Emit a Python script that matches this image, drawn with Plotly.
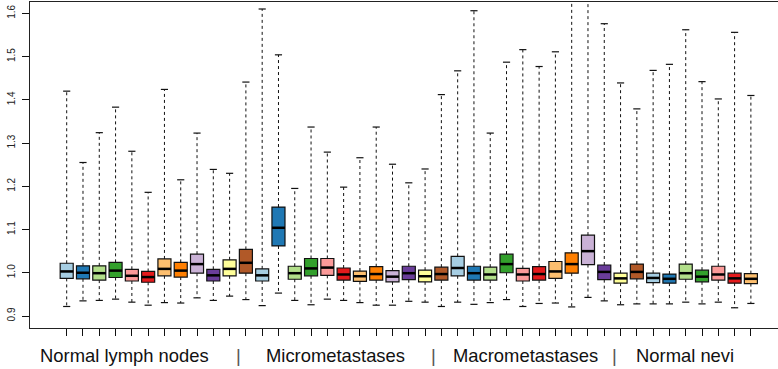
import plotly.graph_objects as go

# ---- data ----
groups = ["Normal lymph nodes", "Micrometastases", "Macrometastases", "Normal nevi"]
group_sizes = [12, 12, 12, 7]
palette = ["#A6CEE3", "#1F78B4", "#B2DF8A", "#33A02C", "#FB9A99", "#E31A1C",
           "#FDBF6F", "#FF7F00", "#CAB2D6", "#6A3D9A", "#FFFF99", "#B15928"]

lower = [0.922, 0.935, 0.936, 0.939, 0.932, 0.925, 0.931, 0.930, 0.942, 0.936, 0.946, 0.938,
         0.924, 0.953, 0.936, 0.926, 0.939, 0.936, 0.931, 0.925, 0.925, 0.934, 0.932, 0.922,
         0.932, 0.927, 0.931, 0.938, 0.922, 0.929, 0.930, 0.921, 0.943, 0.935, 0.926, 0.928,
         0.928, 0.928, 0.932, 0.928, 0.932, 0.919, 0.929]
q1 = [0.987, 0.986, 0.983, 0.989, 0.981, 0.978, 0.993, 0.990, 0.999, 0.981, 0.993, 0.999,
      0.981, 1.062, 0.985, 0.993, 0.994, 0.983, 0.980, 0.983, 0.979, 0.984, 0.979, 0.983,
      0.993, 0.983, 0.983, 1.000, 0.981, 0.983, 0.987, 0.999, 1.019, 0.984, 0.976, 0.986,
      0.977, 0.976, 0.985, 0.979, 0.983, 0.976, 0.975]
median = [1.003, 1.000, 0.999, 1.005, 0.993, 0.990, 1.009, 1.005, 1.020, 0.994, 1.009, 1.023,
          0.994, 1.104, 0.999, 1.010, 1.012, 0.996, 0.992, 0.997, 0.991, 0.999, 0.992, 0.997,
          1.011, 0.999, 0.996, 1.020, 0.996, 0.997, 1.003, 1.020, 1.050, 1.002, 0.987, 1.002,
          0.988, 0.986, 0.999, 0.991, 0.996, 0.987, 0.986]
q3 = [1.022, 1.016, 1.016, 1.024, 1.008, 1.003, 1.032, 1.024, 1.043, 1.008, 1.030, 1.054,
      1.009, 1.152, 1.015, 1.033, 1.033, 1.011, 1.004, 1.014, 1.005, 1.015, 1.006, 1.013,
      1.038, 1.015, 1.013, 1.043, 1.010, 1.014, 1.026, 1.046, 1.087, 1.018, 0.999, 1.020,
      0.999, 0.997, 1.020, 1.006, 1.015, 0.999, 0.998]
upper = [1.420, 1.255, 1.324, 1.383, 1.281, 1.186, 1.424, 1.215, 1.323, 1.239, 1.230, 1.441,
         1.610, 1.504, 1.195, 1.337, 1.279, 1.198, 1.266, 1.337, 1.251, 1.208, 1.240, 1.412,
         1.467, 1.606, 1.323, 1.487, 1.516, 1.477, 1.511, 1.700, 1.800, 1.576, 1.439, 1.379,
         1.468, 1.482, 1.562, 1.442, 1.402, 1.556, 1.410]
yticks = [0.9, 1.0, 1.1, 1.2, 1.3, 1.4, 1.5, 1.6]

n = len(median)
positions = list(range(1, n + 1))
colors = [palette[i % 12] for i in range(n)]

fig = go.Figure()

BW = 0.8
for i in range(n):
    fig.add_trace(go.Box(
        x=[positions[i]], q1=[q1[i]], median=[median[i]], q3=[q3[i]],
        lowerfence=[q1[i]], upperfence=[q3[i]],
        width=BW, whiskerwidth=0, fillcolor=colors[i],
        line=dict(color="#111111", width=1.2), boxpoints=False,
        hoverinfo="skip", showlegend=False))

# whiskers (dashed)
wx, wy = [], []
for i in range(n):
    wx += [positions[i], positions[i], None, positions[i], positions[i], None]
    wy += [q3[i], upper[i], None, q1[i], lower[i], None]
fig.add_trace(go.Scatter(x=wx, y=wy, mode="lines",
                         line=dict(color="#111111", width=1, dash="3px,3px"),
                         hoverinfo="skip", showlegend=False))
# staples
cx, cy = [], []
cw = 0.22
for i in range(n):
    cx += [positions[i] - cw, positions[i] + cw, None, positions[i] - cw, positions[i] + cw, None]
    cy += [upper[i], upper[i], None, lower[i], lower[i], None]
fig.add_trace(go.Scatter(x=cx, y=cy, mode="lines",
                         line=dict(color="#111111", width=1.2),
                         hoverinfo="skip", showlegend=False))
# thick medians
mx, my = [], []
for i in range(n):
    mx += [positions[i] - BW / 2, positions[i] + BW / 2, None]
    my += [median[i], median[i], None]
fig.add_trace(go.Scatter(x=mx, y=my, mode="lines",
                         line=dict(color="#000000", width=2.5),
                         hoverinfo="skip", showlegend=False))

W, H = 778, 369
ML, MR, MT, MB = 30, 0, 2, 41
plot_w = W - ML - MR
plot_h = H - MT - MB

# pixel geometry: box 1 at 66.7 px, step 16.29 px
step = 16.29
x0 = 1 - (ML - 0 - 66.7 + ML) / step if False else 1 - (66.7 - ML) / step
x1 = x0 + plot_w / step

def px_to_paper_x(px):
    return (px - ML) / plot_w

def py_to_paper_y(py):
    return 1 - (py - MT) / plot_h

label_y = py_to_paper_y(355)
label_centers = [124.5, 335, 525, 684.5]
sep_x = [238.3, 433.3, 614.3]
annotations = []
for g, cxp in zip(groups, label_centers):
    annotations.append(dict(text=g, x=px_to_paper_x(cxp), y=label_y, xref="paper", yref="paper",
                            xanchor="center", yanchor="middle", showarrow=False,
                            font=dict(family="Liberation Sans, Arial, sans-serif", size=18.4, color="#111111")))
for sx in sep_x:
    annotations.append(dict(text="|", x=px_to_paper_x(sx), y=label_y, xref="paper", yref="paper",
                            xanchor="center", yanchor="middle", showarrow=False,
                            font=dict(family="Liberation Sans, Arial, sans-serif", size=18.4, color="#555555")))

fig.update_layout(
    width=W, height=H,
    margin=dict(l=ML, r=MR, t=MT, b=MB),
    paper_bgcolor="white", plot_bgcolor="white",
    showlegend=False,
    annotations=annotations,
    xaxis=dict(range=[x0, x1], tickmode="array", tickvals=positions, ticktext=[""] * n,
               ticks="outside", ticklen=7, tickcolor="#111111", tickwidth=1,
               showgrid=False, zeroline=False, showline=True, mirror=True,
               linecolor="#222222", linewidth=1),
    yaxis=dict(range=[0.9 - (328 - 316) / 432.4, 0.9 + (316 - MT) / 432.4],
               tickmode="array", tickvals=yticks, ticktext=[f"{v:.1f}" for v in yticks],
               ticks="outside", ticklen=7, tickcolor="#111111", tickwidth=1,
               tickangle=-90, ticklabelstandoff=3,
               tickfont=dict(family="Liberation Sans, Arial, sans-serif", size=10, color="#222222"),
               showgrid=False, zeroline=False, showline=True, mirror=False,
               linecolor="#222222", linewidth=1),
)

fig.write_html("out.html")
